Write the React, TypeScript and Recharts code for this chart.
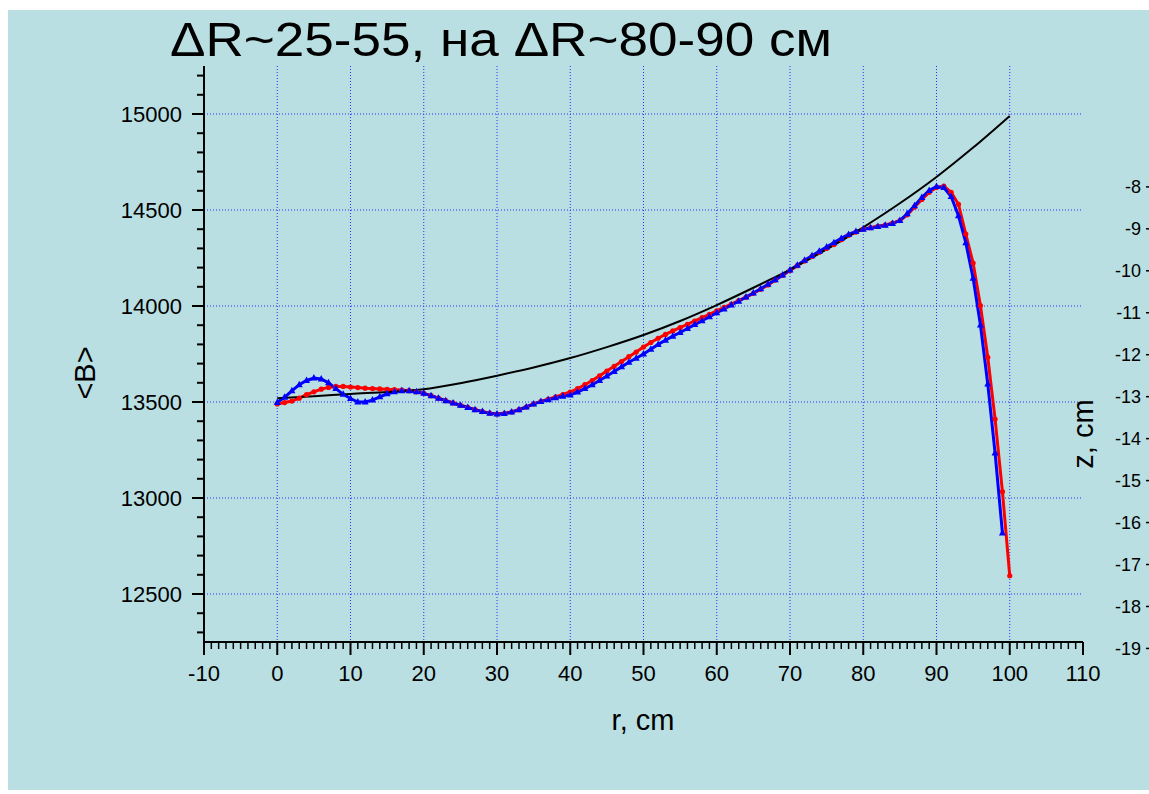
import React from 'react';
import { LineChart, Line, XAxis, YAxis, CartesianGrid } from 'recharts';

// r step of the measured profiles, cm
const R_STEP = 1;

// <B> along r, red profile (circles), r = 0..100
const RED_B = [
  13490, 13497, 13505, 13520, 13538, 13553, 13567, 13576, 13581, 13581,
  13578, 13575, 13572, 13570, 13568, 13566, 13564, 13562, 13559, 13553,
  13545, 13533, 13520, 13507, 13495, 13483, 13472, 13460, 13450, 13442,
  13437, 13440, 13448, 13460, 13474, 13490, 13503, 13515, 13527, 13539,
  13552, 13570, 13590, 13612, 13636, 13661, 13686, 13711, 13736, 13760,
  13786, 13810, 13832, 13852, 13870, 13887, 13905, 13922, 13940, 13957,
  13975, 13993, 14010, 14028, 14046, 14066, 14087, 14110, 14135, 14160,
  14185, 14210, 14235, 14258, 14280, 14300, 14320, 14345, 14368, 14385,
  14400, 14408, 14415, 14422, 14432, 14445, 14475, 14515, 14555, 14592,
  14617, 14625, 14592, 14530, 14375, 14224, 14002, 13733, 13411, 13033,
  12595,
];

// <B> along r, blue profile (triangles), r = 0..99
const BLUE_B = [
  13498, 13525, 13558, 13590, 13612, 13625, 13620, 13600, 13570, 13540,
  13518, 13500, 13500, 13510, 13527, 13543, 13553, 13558, 13559, 13553,
  13545, 13533, 13520, 13507, 13495, 13483, 13472, 13460, 13450, 13442,
  13437, 13440, 13448, 13460, 13474, 13490, 13502, 13512, 13522, 13530,
  13537, 13552, 13570, 13590, 13612, 13635, 13659, 13683, 13707, 13728,
  13750, 13775, 13800, 13822, 13843, 13862, 13883, 13903, 13923, 13944,
  13965, 13985, 14005, 14025, 14047, 14068, 14090, 14113, 14137, 14162,
  14187, 14212, 14238, 14262, 14285, 14307, 14330, 14352, 14373, 14388,
  14400, 14407, 14414, 14420, 14430, 14445, 14480, 14522, 14565, 14602,
  14622, 14617, 14570, 14470, 14330, 14144, 13901, 13594, 13234, 12818,
];

// smooth black reference curve
const BLACK_R = [0, 5, 10, 15, 20, 25, 30, 35, 40, 45, 50, 55, 60, 65, 70, 75, 80, 85, 90, 95, 100];
const BLACK_B = [
  13520, 13530, 13542, 13552, 13566, 13598, 13637, 13680, 13729, 13786,
  13849, 13922, 14005, 14095, 14190, 14295, 14410, 14535, 14672, 14825, 14990,
];

const X_MAJOR = [-10, 0, 10, 20, 30, 40, 50, 60, 70, 80, 90, 100, 110];
const X_GRID = [0, 10, 20, 30, 40, 50, 60, 70, 80, 90, 100];
const Y_MAJOR = [12500, 13000, 13500, 14000, 14500, 15000];
const Z_TICKS = [-8, -9, -10, -11, -12, -13, -14, -15, -16, -17, -18, -19];

const X_TICKS = Array.from({ length: 121 }, (_, i) => -10 + i);
const Y_TICKS = Array.from({ length: 30 }, (_, i) => 12300 + i * 100);

const redData = RED_B.map((b, i) => ({ r: i * R_STEP, b }));
const blueData = BLUE_B.map((b, i) => ({ r: i * R_STEP, b }));
const blackData = BLACK_R.map((r, i) => ({ r, b: BLACK_B[i] }));

const FONT = '"Liberation Sans", Arial, Helvetica, sans-serif';

const XTick = (props: any) => {
  const { x, y, payload } = props;
  const major = X_MAJOR.includes(payload.value);
  return (
    <g>
      <line x1={x} x2={x} y1={y} y2={y + (major ? 13 : 7)} stroke="#000" strokeWidth={major ? 2 : 1.5} />
      {major && (
        <text x={x} y={y + 39} textAnchor="middle" fontSize={22} fontFamily={FONT} fill="#000">
          {payload.value}
        </text>
      )}
    </g>
  );
};

const YTick = (props: any) => {
  const { x, y, payload } = props;
  const major = Y_MAJOR.includes(payload.value);
  return (
    <g>
      <line x1={x - (major ? 12 : 7)} x2={x} y1={y} y2={y} stroke="#000" strokeWidth={2} />
      {major && (
        <text x={x - 22} y={y + 8} textAnchor="end" fontSize={22} fontFamily={FONT} fill="#000">
          {payload.value}
        </text>
      )}
    </g>
  );
};

const RedDot = (props: any) => {
  const { cx, cy, index } = props;
  return <circle key={`rd-${index}`} cx={cx} cy={cy} r={2.6} fill="#ff0000" />;
};

const BlueDot = (props: any) => {
  const { cx, cy, index } = props;
  return (
    <polygon
      key={`bd-${index}`}
      points={`${cx},${cy - 4} ${cx - 3.5},${cy + 2.5} ${cx + 3.5},${cy + 2.5}`}
      fill="#0000ff"
    />
  );
};

export default function App() {
  return (
    <div
      style={{
        position: 'fixed',
        left: 8,
        top: 10,
        width: 1141,
        height: 780,
        background: '#b9dfe2',
        overflow: 'hidden',
        fontFamily: FONT,
      }}
    >
      <div style={{ position: 'absolute', left: 0, top: 0 }}>
        <LineChart width={1141} height={780} margin={{ top: 56, right: 66, bottom: 147, left: 195 }}>
          <CartesianGrid
            horizontalValues={Y_MAJOR}
            verticalValues={X_GRID}
            stroke="#2233ff"
            strokeDasharray="1 2"
            strokeWidth={1}
            fill="none"
          />
          <XAxis
            type="number"
            dataKey="r"
            domain={[-10, 110]}
            ticks={X_TICKS}
            interval={0}
            allowDataOverflow
            height={1}
            tickSize={0}
            tickMargin={0}
            tickLine={false}
            axisLine={{ stroke: '#000', strokeWidth: 2 }}
            tick={<XTick />}
          />
          <YAxis
            type="number"
            dataKey="b"
            domain={[12250, 15250]}
            ticks={Y_TICKS}
            interval={0}
            allowDataOverflow
            width={1}
            tickSize={0}
            tickMargin={0}
            tickLine={false}
            axisLine={{ stroke: '#000', strokeWidth: 2 }}
            tick={<YTick />}
          />
          <Line
            data={redData}
            dataKey="b"
            type="linear"
            stroke="#ff0000"
            strokeWidth={3}
            dot={RedDot}
            activeDot={false}
            isAnimationActive={false}
          />
          <Line
            data={blueData}
            dataKey="b"
            type="linear"
            stroke="#0000ff"
            strokeWidth={3}
            dot={BlueDot}
            activeDot={false}
            isAnimationActive={false}
          />
          <Line
            data={blackData}
            dataKey="b"
            type="monotone"
            stroke="#000000"
            strokeWidth={2}
            dot={false}
            activeDot={false}
            isAnimationActive={false}
          />
        </LineChart>
      </div>

      {/* neighbouring panel, only its z axis is visible at the right edge */}
      <div style={{ position: 'absolute', left: 1082, top: 50.8 }}>
        <LineChart width={100} height={629.4} margin={{ top: 0, right: 0, bottom: 0, left: 0 }}>
          <XAxis type="number" domain={[0, 1]} hide />
          <YAxis
            type="number"
            domain={[-20, -5]}
            ticks={Z_TICKS}
            interval={0}
            allowDataOverflow
            width={60}
            tickSize={4}
            tickMargin={5}
            tickLine={{ stroke: '#000', strokeWidth: 1.5 }}
            axisLine={{ stroke: '#000', strokeWidth: 2 }}
            tick={{ fontSize: 18, fill: '#000', fontFamily: FONT }}
          />
        </LineChart>
      </div>

      <svg
        width={1141}
        height={780}
        style={{ position: 'absolute', left: 0, top: 0, pointerEvents: 'none' }}
      >
        <text x={162} y={46} fontSize={49} fontFamily={FONT} fill="#000" textLength={662} lengthAdjust="spacingAndGlyphs">
          ΔR~25-55, на ΔR~80-90 см
        </text>
        <text x={87} y={363} fontSize={29} fontFamily={FONT} fill="#000" textAnchor="middle" transform="rotate(-90, 87, 363)">
          {'<B>'}
        </text>
        <text x={635} y={720} fontSize={29} fontFamily={FONT} fill="#000" textAnchor="middle">
          r, cm
        </text>
        <text x={1085} y={424} fontSize={29} fontFamily={FONT} fill="#000" textAnchor="middle" transform="rotate(-90, 1085, 424)">
          z, cm
        </text>
      </svg>
    </div>
  );
}
